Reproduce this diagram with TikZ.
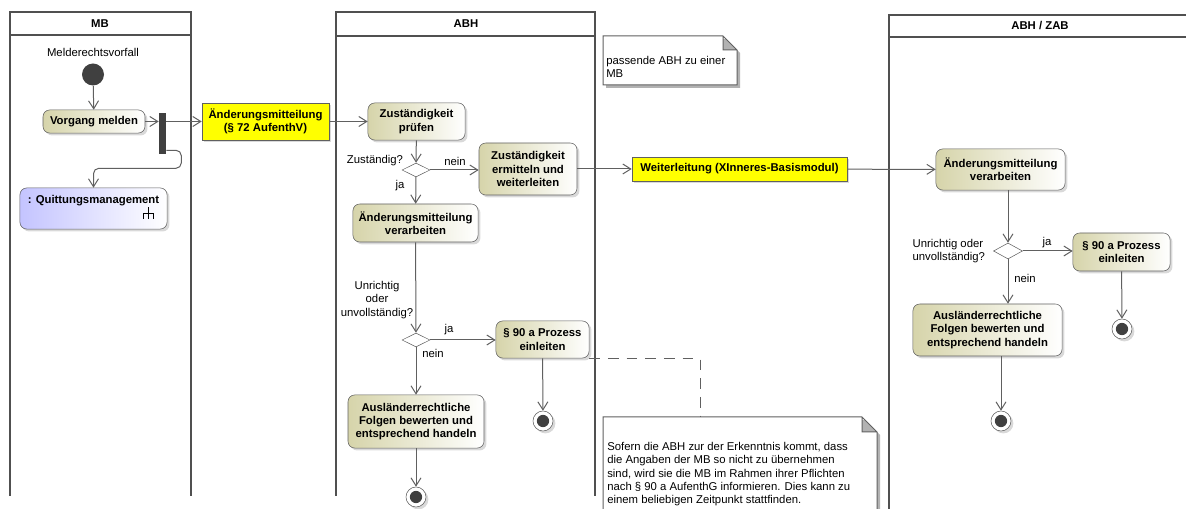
\documentclass[tikz,border=0pt]{standalone}
\usepackage{fontspec}
\setmainfont{Liberation Sans}
\usetikzlibrary{arrows.meta,positioning,shapes.geometric,shadows}
\definecolor{actfill}{RGB}{214,212,170}
\definecolor{callfill}{RGB}{196,196,255}
\definecolor{objfill}{RGB}{255,255,0}
\definecolor{lanegray}{RGB}{80,80,80}
\definecolor{flowgray}{RGB}{96,96,96}
\definecolor{dotgray}{RGB}{64,64,64}
\begin{document}
\begin{tikzpicture}[
  x=0.75pt,y=-0.75pt,
  font=\fontsize{8.5}{10}\selectfont,
  lane/.style={draw=lanegray,line width=1.1pt},
  lane title/.style={font=\fontsize{8.5}{10}\selectfont\bfseries},
  castshadow/.style={drop shadow={shadow xshift=1.8pt,shadow yshift=-1.8pt,opacity=0.3}},
  action/.style={castshadow,draw=flowgray,rounded corners=5pt,left color=actfill,right color=white,align=center,inner sep=1pt,font=\fontsize{8.5}{10}\selectfont\bfseries},
  callnode/.style={action,left color=callfill,right color=white},
  object/.style={castshadow,draw=flowgray,fill=objfill,align=center,inner sep=1pt,font=\fontsize{8.5}{10}\selectfont\bfseries},
  decision/.style={diamond,draw=flowgray,fill=white,aspect=2,inner sep=0pt,minimum width=21pt,minimum height=10.5pt},
  startdot/.style={circle,fill=dotgray,minimum size=16.5pt,inner sep=0pt},
  enddot/.style={circle,draw=flowgray,fill=white,minimum size=15pt,inner sep=0pt,castshadow,path picture={\fill[dotgray] (path picture bounding box.center) circle (4.6pt);}},
  forkbar/.style={fill=dotgray,minimum width=5.3pt,minimum height=30.8pt,inner sep=0pt},
  flow/.style={draw=flowgray,line width=0.75pt,-{Straight Barb[length=6pt,width=7.5pt]}},
  guard/.style={inner sep=1pt},
  notebox/.style={draw=flowgray,fill=white,line width=0.75pt},
  notetext/.style={align=left,inner sep=0pt,anchor=north west},
  notelink/.style={draw=flowgray,line width=0.75pt,dash pattern=on 8pt off 6pt}
]
\useasboundingbox (0,0) rectangle (1186,509);

\draw[lane] (10,496) |- (191,12) -- (191,496) (10,35) -- (191,35);
\node[lane title] (tmb) at (100,24) {MB};
\draw[lane] (336,496) |- (595,12) -- (595,496) (336,36) -- (595,36);
\node[lane title] (tabh) at (466,24) {ABH};
\draw[lane] (889,515) |- (1195,15) (889,37) -- (1195,37);
\node[lane title] (tzab) at (1040,26) {ABH / ZAB};

\node[startdot] (start) at (93,74.5) {};
\node[guard,above=4pt of start] (lstart) {Melderechtsvorfall};
\node[action,minimum width=76.5pt,minimum height=17.3pt] (vorgang) at (94,121.5) {Vorgang melden};
\node[forkbar] (fork) at (162.5,133.5) {};
\node[callnode,minimum width=110.3pt,minimum height=30.8pt] (quitt) at (93.5,208.5) {: Quittungsmanagement\\ \strut};
\begin{scope}[shift={(quitt.south east)},draw=black,line width=1pt]
\draw (-19,-22) -- (-19,-10) (-24,-16) -- (-14,-16) (-24,-16) -- (-24,-10) (-14,-16) -- (-14,-10);
\end{scope}
\node[object,minimum width=95.3pt,minimum height=27.8pt] (aendmit) at (265.5,121.5) {Änderungsmitteilung\\(§ 72 AufenthV)};

\draw[flow] (start) -- (vorgang);
\draw[flow] (vorgang.east) -- (vorgang.east -| fork.west);
\draw[flow] (fork.east |- aendmit) -- (aendmit);
\draw[flow,rounded corners=4pt] ([yshift=3pt]fork.south east) -| ++(15,18) -| (quitt.north);

\node[action,minimum width=72.8pt,minimum height=27.8pt] (pruefen) at (416.5,121.5) {Zuständigkeit\\prüfen};
\node[decision] (dec1) at (416,170) {};
\node[action,minimum width=73.5pt,minimum height=39pt] (ermitteln) at (528,169) {Zuständigkeit\\ermitteln und\\weiterleiten};
\node[action,minimum width=93.8pt,minimum height=28.5pt] (verarb1) at (415.5,223) {Änderungsmitteilung\\verarbeiten};
\node[decision] (dec2) at (416,340) {};
\node[action,minimum width=69.8pt,minimum height=27.8pt] (p90a) at (542.5,339.5) {§ 90 a Prozess\\einleiten};
\node[action,minimum width=102pt,minimum height=39.8pt] (ausl1) at (416,421.5) {Ausländerrechtliche\\Folgen bewerten und\\entsprechend handeln};
\node[enddot] (end1) at (416,497) {};
\node[enddot] (end2) at (543,421) {};

\node[guard] (qzust) at (375,161) {Zuständig?};
\node[guard] (lnein1) at (455,161) {nein};
\node[guard] (lja1) at (400,186) {ja};
\node[guard,align=center] (qunr1) at (377,300) {Unrichtig\\oder\\unvollständig?};
\node[guard] (lja2) at (449,330) {ja};
\node[guard] (lnein2) at (433,353) {nein};

\draw[flow] (aendmit) -- (pruefen);
\draw[flow] (pruefen) -- (dec1);
\draw[flow] (dec1.east) -- (ermitteln.west |- dec1);
\draw[flow] (dec1) -- (verarb1);
\draw[flow] (verarb1) -- (dec2);
\draw[flow] (dec2.east) -- (p90a.west |- dec2);
\draw[flow] (dec2) -- (ausl1);
\draw[flow] (ausl1) -- (end1);
\draw[flow] (p90a) -- (end2);

\draw[notebox,fill=black!30,draw=none] (606,39) -- (726,39) -- (740,53) -- (740,88) -- (606,88) -- cycle;
\draw[notebox] (603,36) -- (723,36) -- (737,50) -- (737,85) -- (603,85) -- cycle (723,36) |- (737,50);
\node[notetext] (note1) at (606,56) {passende ABH zu einer\\MB};

\draw[notebox,fill=black!30,draw=none] (606,420) -- (865,420) -- (880,435) -- (880,520) -- (606,520) -- cycle;
\draw[notebox] (603,417) -- (862,417) -- (877,432) -- (877,520) -- (603,520) -- cycle (862,417) |- (877,432);
\coordinate (note2top) at (700,417);
\node[notetext] (note2) at (607,442) {Sofern die ABH zur der Erkenntnis kommt, dass\\die Angaben der MB so nicht zu übernehmen\\sind, wird sie die MB im Rahmen ihrer Pflichten\\nach § 90 a AufenthG informieren. Dies kann zu\\einem beliebigen Zeitpunkt stattfinden.};
\draw[notelink] (p90a.south east) -| (note2top);

\node[object,minimum width=161.3pt,minimum height=18pt] (weiter) at (739.5,169) {Weiterleitung (XInneres-Basismodul)};
\draw[flow] (ermitteln) -- (weiter);

\node[action,minimum width=96.8pt,minimum height=30.8pt] (verarb2) at (1000.5,169.5) {Änderungsmitteilung\\verarbeiten};
\node[decision,minimum width=21.8pt,minimum height=12pt] (dec3) at (1008,251) {};
\node[action,minimum width=72.8pt,minimum height=28.5pt] (p90b) at (1121.5,252) {§ 90 a Prozess\\einleiten};
\node[action,minimum width=111.8pt,minimum height=39pt] (ausl2) at (987.5,330) {Ausländerrechtliche\\Folgen bewerten und\\entsprechend handeln};
\node[enddot] (end3) at (1001,421) {};
\node[enddot] (end4) at (1122,329) {};

\node[guard,anchor=west,align=left] (qunr2) at (911,251) {Unrichtig oder\\unvollständig?};
\node[guard] (lja3) at (1047,243) {ja};
\node[guard] (lnein3) at (1025,278) {nein};

\draw[flow] (weiter) -- (verarb2);
\draw[flow] (verarb2.south -| dec3) -- (dec3.north);
\draw[flow] (dec3.east) -- (p90b.west |- dec3);
\draw[flow] (dec3.south) -- (ausl2.north -| dec3);
\draw[flow] (ausl2.south -| end3) -- (end3);
\draw[flow] (p90b) -- (end4);
\end{tikzpicture}
\end{document}
